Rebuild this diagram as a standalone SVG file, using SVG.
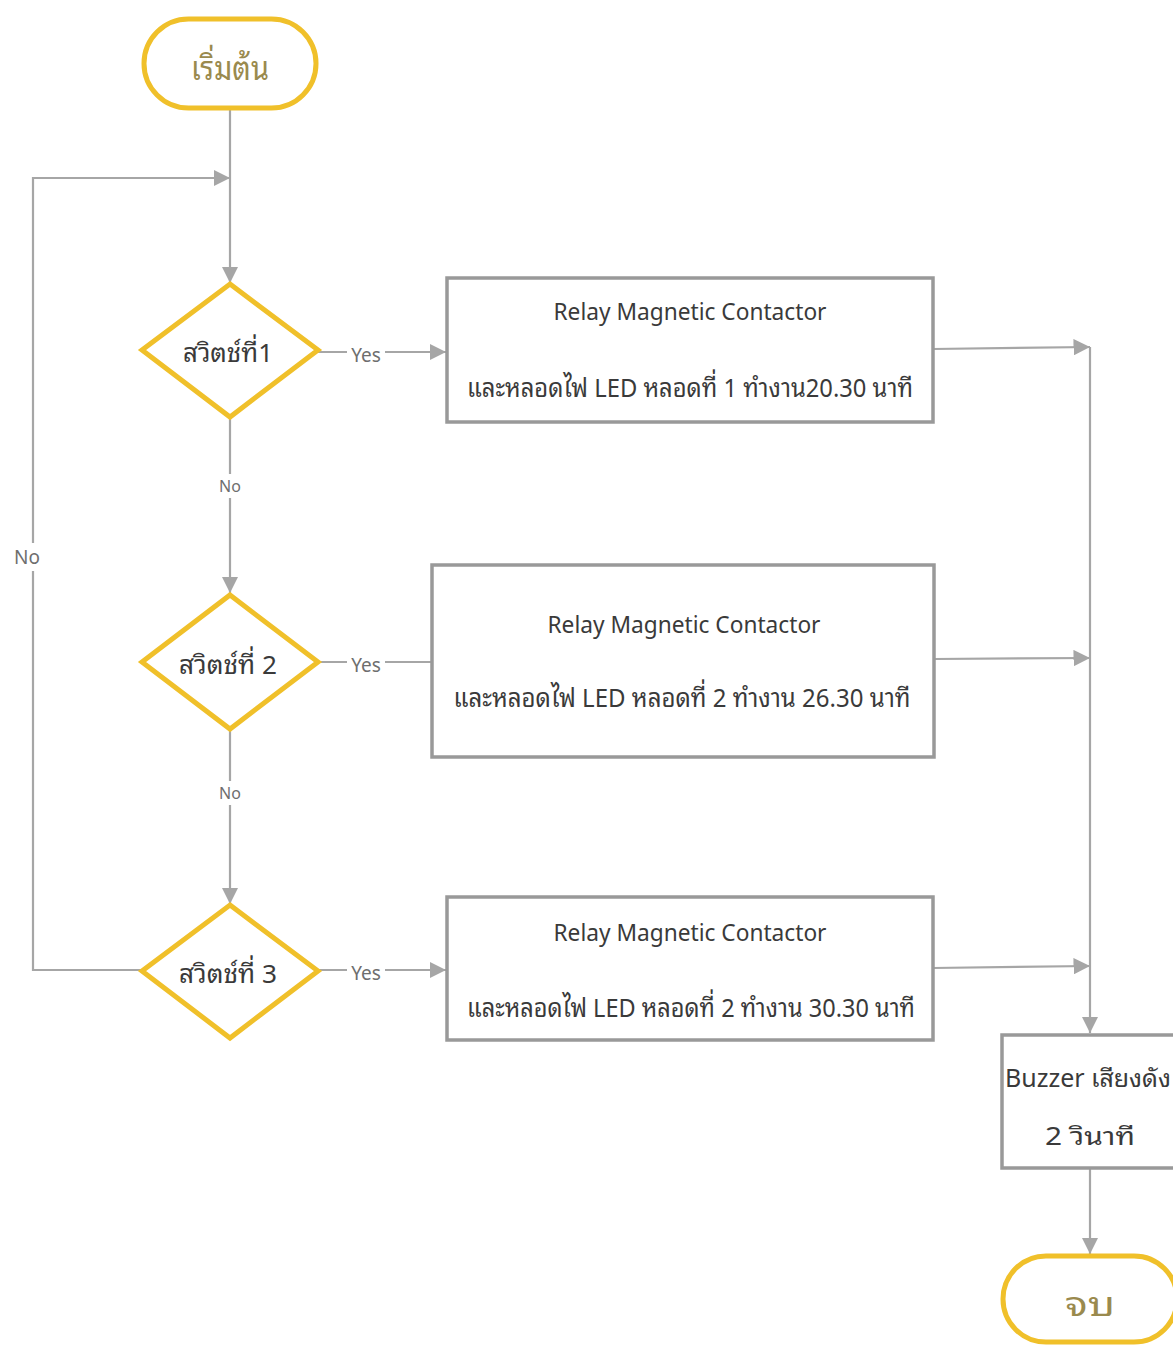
<svg xmlns="http://www.w3.org/2000/svg" width="1173" height="1347" viewBox="0 0 1173 1347">
  <defs>
    <marker id="arrow" viewBox="0 0 10 10" refX="10" refY="5" markerWidth="7.5" markerHeight="7.5" orient="auto" markerUnits="strokeWidth">
      <path d="M0,0 L10,5 L0,10 z" fill="#a6a6a6"/>
    </marker>
    <style>
      .terminal { fill: #ffffff; stroke: #f0c02a; stroke-width: 5; }
      .decision { fill: #ffffff; stroke: #f0c02a; stroke-width: 5; }
      .process { fill: #ffffff; stroke: #999999; stroke-width: 3.5; }
      .conn { fill: none; stroke: #a6a6a6; stroke-width: 2.2; }
      .txt { font-family: "Noto Sans Thai Looped", "Loma", "Garuda", "Tahoma", "Noto Sans Thai", "Noto Sans", "DejaVu Sans", sans-serif; fill: #3a3a3a; text-anchor: middle; }
      .olive { fill: #9a8a4e; }
      .lbl { font-family: "Noto Sans", "DejaVu Sans", sans-serif; fill: #6e6e6e; text-anchor: middle; }
    </style>
  </defs>
  <rect width="1173" height="1347" fill="#ffffff"/>

  <!-- connectors -->
  <g id="connectors">
    <line class="conn" x1="230" y1="108" x2="230" y2="283" marker-end="url(#arrow)"/>
    <polyline class="conn" points="142,970 33,970 33,178 230,178" marker-end="url(#arrow)"/>
    <line class="conn" x1="230" y1="417" x2="230" y2="593" marker-end="url(#arrow)"/>
    <line class="conn" x1="230" y1="729" x2="230" y2="904" marker-end="url(#arrow)"/>
    <line class="conn" x1="318" y1="352" x2="446" y2="352" marker-end="url(#arrow)"/>
    <line class="conn" x1="318" y1="662" x2="432" y2="662"/>
    <line class="conn" x1="318" y1="970" x2="446" y2="970" marker-end="url(#arrow)"/>
    <line class="conn" x1="933" y1="349" x2="1090" y2="347" marker-end="url(#arrow)"/>
    <line class="conn" x1="934" y1="659" x2="1090" y2="658" marker-end="url(#arrow)"/>
    <line class="conn" x1="933" y1="968" x2="1090" y2="966" marker-end="url(#arrow)"/>
    <line class="conn" x1="1090" y1="347" x2="1090" y2="1033" marker-end="url(#arrow)"/>
    <line class="conn" x1="1090" y1="1168" x2="1090" y2="1254" marker-end="url(#arrow)"/>
    <!-- branch labels -->
    <rect x="347" y="341" width="38" height="24" fill="#ffffff"/>
    <text class="lbl" x="366" y="362" font-size="19">Yes</text>
    <rect x="347" y="651" width="38" height="24" fill="#ffffff"/>
    <text class="lbl" x="366" y="672" font-size="19">Yes</text>
    <rect x="347" y="959" width="38" height="24" fill="#ffffff"/>
    <text class="lbl" x="366" y="980" font-size="19">Yes</text>
    <rect x="216" y="474" width="28" height="24" fill="#ffffff"/>
    <text class="lbl" x="230" y="492" font-size="16">No</text>
    <rect x="216" y="781" width="28" height="24" fill="#ffffff"/>
    <text class="lbl" x="230" y="799" font-size="16">No</text>
    <rect x="12" y="543" width="32" height="28" fill="#ffffff"/>
    <text class="lbl" x="27" y="564" font-size="19">No</text>
  </g>

  <!-- start -->
  <g id="start">
    <rect class="terminal" x="144" y="19" width="172" height="89" rx="44.5"/>
    <text class="txt olive" x="230" y="80" font-size="34" textLength="78" lengthAdjust="spacingAndGlyphs">เริ่มต้น</text>
  </g>

  <!-- decisions -->
  <g id="switch1">
    <polygon class="decision" points="230,284 318,350 230,417 142,350"/>
    <text class="txt" x="228" y="362" font-size="26" textLength="90" lengthAdjust="spacingAndGlyphs">สวิตช์ที่1</text>
  </g>
  <g id="switch2">
    <polygon class="decision" points="230,595 318,662 230,729 142,662"/>
    <text class="txt" x="228" y="674" font-size="26" textLength="98" lengthAdjust="spacingAndGlyphs">สวิตช์ที่ 2</text>
  </g>
  <g id="switch3">
    <polygon class="decision" points="230,905 318,971 230,1038 142,971"/>
    <text class="txt" x="228" y="983" font-size="26" textLength="98" lengthAdjust="spacingAndGlyphs">สวิตช์ที่ 3</text>
  </g>

  <!-- processes -->
  <g id="relay1">
    <rect class="process" x="447" y="278" width="486" height="144"/>
    <text class="txt" x="690" y="320" font-size="23" textLength="273" lengthAdjust="spacingAndGlyphs">Relay  Magnetic Contactor</text>
    <text class="txt" x="690" y="397" font-size="26" textLength="446" lengthAdjust="spacingAndGlyphs">และหลอดไฟ LED หลอดที่ 1 ทำงาน20.30 นาที</text>
  </g>
  <g id="relay2">
    <rect class="process" x="432" y="565" width="502" height="192"/>
    <text class="txt" x="684" y="633" font-size="23" textLength="273" lengthAdjust="spacingAndGlyphs">Relay  Magnetic Contactor</text>
    <text class="txt" x="682" y="707" font-size="26" textLength="457" lengthAdjust="spacingAndGlyphs">และหลอดไฟ LED หลอดที่ 2 ทำงาน 26.30 นาที</text>
  </g>
  <g id="relay3">
    <rect class="process" x="447" y="897" width="486" height="143"/>
    <text class="txt" x="690" y="941" font-size="23" textLength="273" lengthAdjust="spacingAndGlyphs">Relay  Magnetic Contactor</text>
    <text class="txt" x="691" y="1017" font-size="26" textLength="448" lengthAdjust="spacingAndGlyphs">และหลอดไฟ LED หลอดที่ 2 ทำงาน 30.30 นาที</text>
  </g>

  <!-- buzzer -->
  <g id="buzzer">
    <rect class="process" x="1002" y="1035" width="180" height="133"/>
    <text class="txt" x="1088" y="1087" font-size="25" textLength="166" lengthAdjust="spacingAndGlyphs">Buzzer เสียงดัง</text>
    <text class="txt" x="1090" y="1145" font-size="25" textLength="90" lengthAdjust="spacingAndGlyphs">2  วินาที</text>
  </g>

  <!-- end -->
  <g id="end">
    <rect class="terminal" x="1003" y="1256" width="174" height="86" rx="43"/>
    <text class="txt olive" x="1090" y="1316" font-size="34" textLength="50" lengthAdjust="spacingAndGlyphs">จบ</text>
  </g>
</svg>
